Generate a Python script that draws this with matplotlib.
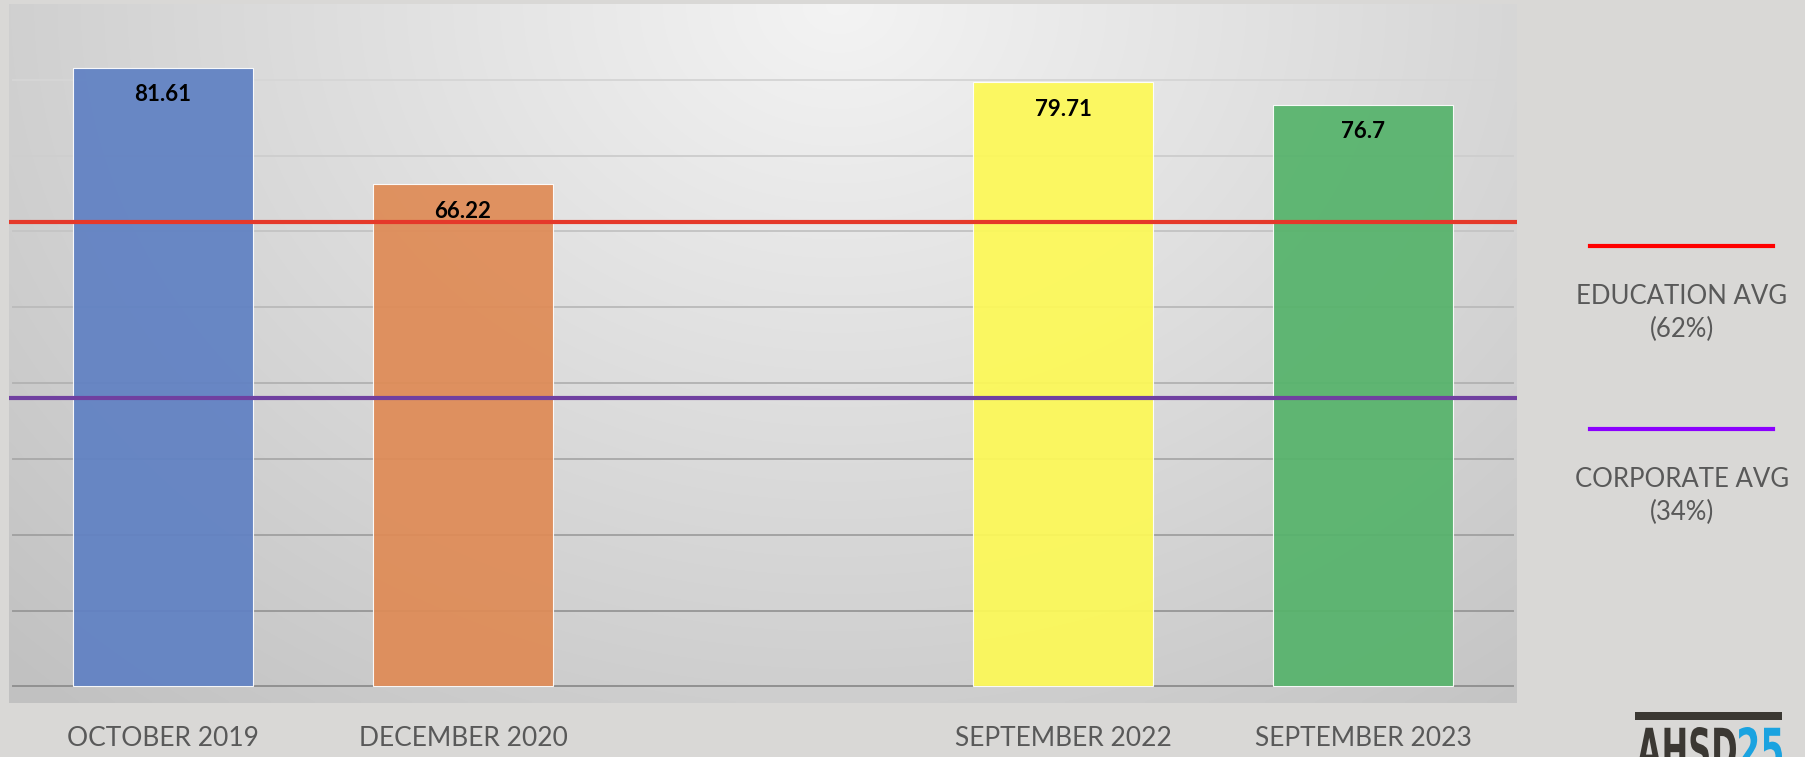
import numpy as np
import matplotlib.pyplot as plt
from matplotlib.textpath import TextPath
from matplotlib.patches import PathPatch
from matplotlib.font_manager import FontProperties
from matplotlib.transforms import Affine2D

# survey score by date
dates = ["OCTOBER 2019", "DECEMBER 2020", "SEPTEMBER 2022", "SEPTEMBER 2023"]
scores = [81.61, 66.22, 79.71, 76.7]
score_labels = ["81.61", "66.22", "79.71", "76.7"]
bar_colors = ["#6081c3", "#df8b56", "#fdf957", "#56b36b"]

# reference averages: label text and where the line sits on the value axis
avg_names = ["EDUCATION AVG\n(62%)", "CORPORATE AVG\n(34%)"]
avg_line_values = [61.2, 38.0]
avg_line_colors = ["#e5392a", "#7040a0"]
avg_legend_colors = ["#ff0000", "#8b00ff"]

grid_values = [0, 10, 20, 30, 40, 50, 60, 70, 80]

# five category slots on the slide, the 2021 one is empty
slots = [0, 1, 3, 4]

W, H = 1806, 757
fig = plt.figure(figsize=(W / 100, H / 100), dpi=100)
fig.patch.set_facecolor("#d9d8d6")

ax = fig.add_axes([9 / W, 1 - 703 / H, 1508 / W, 699 / H])
pad = 4 / 300
ax.set_xlim(-0.5 - pad, 4.5 + pad)
ax.set_ylim(-2.2, 90)
ax.axis("off")

# soft radial gradient for the plot panel
ny, nx = 200, 400
u, v = np.meshgrid(np.linspace(0, 1, nx), np.linspace(1, 0, ny))
d = np.sqrt(((u - 0.55) / 0.75) ** 2 + ((v - 1.0) / 1.3) ** 2)
shade = np.clip(0.955 - 0.19 * d, 0.76, 0.96)
img = np.dstack([shade, shade, shade])
ax.imshow(img, extent=[0, 1, 0, 1], transform=ax.transAxes, aspect="auto",
          zorder=0, interpolation="bilinear")

# gridlines: darker towards the bottom
for g in grid_values:
    c = 0.57 + 0.27 * (g / 80)
    ax.plot([-0.5, 4.5], [g, g], color=(c, c, c), lw=1.4, zorder=1)

bars = ax.bar(slots, scores, width=0.6, color=bar_colors, alpha=0.93,
              edgecolor="white", linewidth=0.8, zorder=2)

for rect, lab in zip(bars, score_labels):
    ax.annotate(lab, (rect.get_x() + rect.get_width() / 2, rect.get_height()),
                xytext=(0, -19.5), textcoords="offset points",
                ha="center", va="center", fontsize=16, fontweight="bold",
                family="Lato", color="black", zorder=4)

for val, col in zip(avg_line_values, avg_line_colors):
    ax.axhline(val, color=col, lw=3.0, zorder=3)

# category labels under the bars
for name, x in zip(dates, slots):
    ax.annotate(name, (x, 1 - 738 / H), xycoords=("data", "figure fraction"),
                ha="center", va="center", fontsize=19, family="Lato",
                color="#595959", annotation_clip=False)

# side legend
leg_line_y = [246, 429]
leg_text_y = [313, 496]
for name, col, ly, ty in zip(avg_names, avg_legend_colors, leg_line_y, leg_text_y):
    fig.add_artist(plt.Line2D([1590 / W, 1773 / W], [1 - ly / H, 1 - ly / H],
                              color=col, lw=3.0))
    fig.text(1682 / W, 1 - ty / H, name, ha="center", va="center",
             fontsize=18.5, family="Lato", color="#595959", linespacing=1.35)

# logo in pixel coordinates, cut off by the bottom edge
ov = fig.add_axes([0, 0, 1, 1], zorder=5)
ov.set_xlim(0, W)
ov.set_ylim(H, 0)
ov.axis("off")
ov.add_patch(plt.Rectangle((1635, 712), 147, 8, color="#3b3833", lw=0))
bold = FontProperties(family="DejaVu Sans", weight="bold")
for txt, x0, x1, col in [("AHSD", 1637, 1736, "#3b3833"), ("25", 1739, 1782, "#1aa3e0")]:
    tp = TextPath((0, 0), txt, size=10, prop=bold)
    ext = tp.get_extents()
    sx = (x1 - x0) / ext.width
    sy = 44 / ext.height
    tr = Affine2D().translate(-ext.x0, -ext.y1).scale(sx, -sy).translate(x0, 727)
    ov.add_patch(PathPatch(tr.transform_path(tp), color=col, lw=0))

fig.savefig("out.png", dpi=100, facecolor=fig.get_facecolor())
